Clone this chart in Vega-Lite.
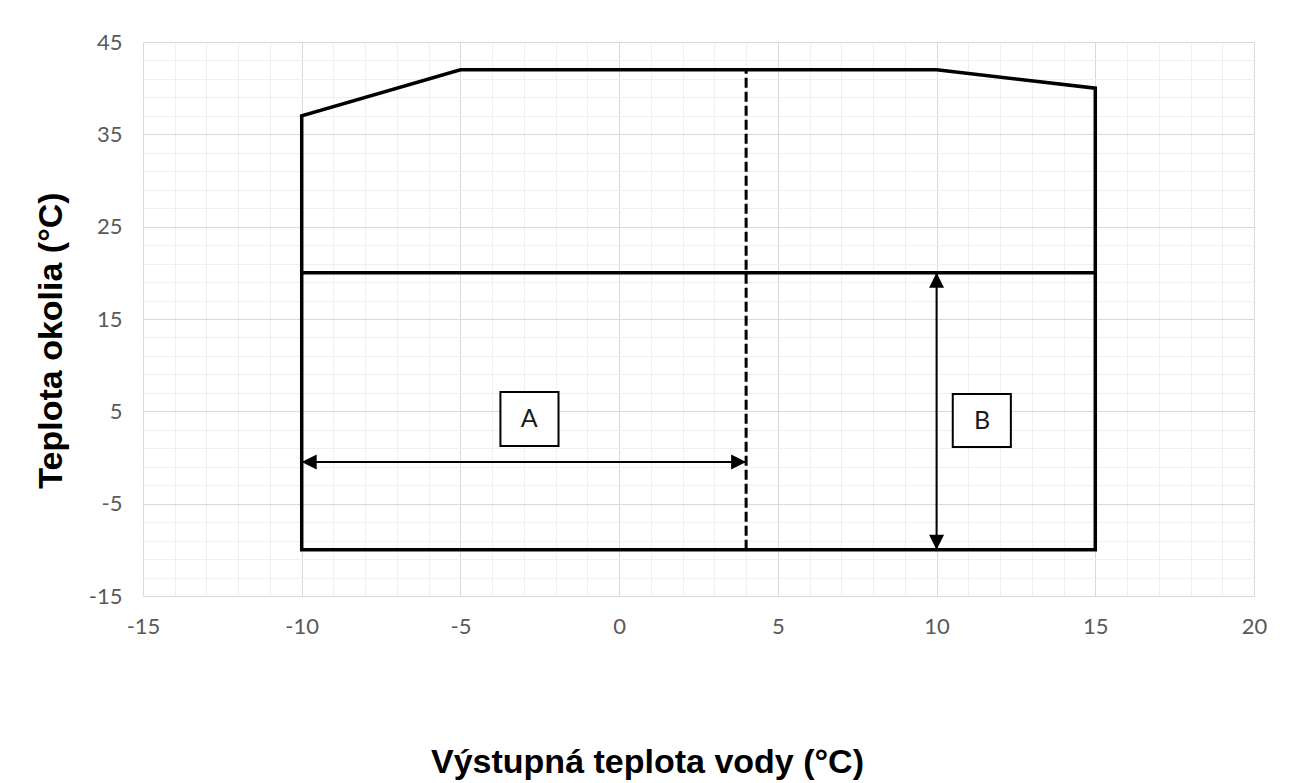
{
  "$schema": "https://vega.github.io/schema/vega-lite/v6.json",
  "width": 1111,
  "height": 554,
  "autosize": {"type": "none"},
  "padding": {"left": 143, "top": 42, "right": 35, "bottom": 187},
  "background": "white",
  "config": {"view": {"stroke": null}, "axis": {"labelOverlap": false, "labelFlush": false}},
  "datasets": {
    "outline": [
      {"x": -10, "y": -10, "o": 0},
      {"x": -10, "y": 37, "o": 1},
      {"x": -5, "y": 42, "o": 2},
      {"x": 10, "y": 42, "o": 3},
      {"x": 15, "y": 40, "o": 4},
      {"x": 15, "y": -10, "o": 5},
      {"x": -10, "y": -10, "o": 6}
    ],
    "hline": [{"x": -10, "x2": 15, "y": 20}],
    "dashed": [{"x": 4, "y": -10, "y2": 42}],
    "arrows": [
      {"x": -10, "x2": 4, "y": -0.5, "y2": -0.5},
      {"x": 10, "x2": 10, "y": -10, "y2": 20}
    ],
    "heads": [
      {"x": -10, "y": -0.5, "dir": "L"},
      {"x": 4, "y": -0.5, "dir": "R"},
      {"x": 10, "y": 20, "dir": "U"},
      {"x": 10, "y": -10, "dir": "D"}
    ],
    "boxes": [
      {"x": -3.74, "x2": -1.91, "y": 7.09, "y2": 1.24},
      {"x": 10.51, "x2": 12.34, "y": 6.88, "y2": 1.14}
    ],
    "labels": [
      {"x": -2.83, "y": 4.17, "label": "A"},
      {"x": 11.43, "y": 4.0, "label": "B"}
    ]
  },
  "encoding": {
    "x": {
      "field": "x", "type": "quantitative",
      "scale": {"domain": [-15, 20], "nice": false, "zero": false},
      "axis": {
        "values": [-15,-14,-13,-12,-11,-10,-9,-8,-7,-6,-5,-4,-3,-2,-1,0,1,2,3,4,5,6,7,8,9,10,11,12,13,14,15,16,17,18,19,20],
        "grid": true,
        "gridColor": {"condition": {"test": "abs(datum.value) % 5 === 0", "value": "#d9d9d9"}, "value": "#efefef"},
        "gridWidth": 1,
        "ticks": false,
        "domain": false,
        "labelOverlap": false,
        "labelFlush": false,
        "labelExpr": "abs(datum.value) % 5 === 0 ? '' + datum.value : ''",
        "labelFont": "Lato",
        "labelFontSize": 22,
        "labelColor": "#595959",
        "labelPadding": 20,
        "title": "Výstupná teplota vody (°C)",
        "titleFont": "Liberation Sans",
        "titleFontWeight": "bold",
        "titleFontSize": 34,
        "titleColor": "black",
        "titleX": 504,
        "titleY": 166,
        "titleAlign": "center",
        "titleBaseline": "middle"
      }
    },
    "y": {
      "field": "y", "type": "quantitative",
      "scale": {"domain": [-15, 45], "nice": false, "zero": false},
      "axis": {
        "values": [-15,-13,-11,-9,-7,-5,-3,-1,1,3,5,7,9,11,13,15,17,19,21,23,25,27,29,31,33,35,37,39,41,43,45],
        "grid": true,
        "gridColor": {"condition": {"test": "(datum.value + 15) % 10 === 0", "value": "#d9d9d9"}, "value": "#efefef"},
        "gridWidth": 1,
        "ticks": false,
        "domain": false,
        "labelOverlap": false,
        "labelFlush": false,
        "labelExpr": "(datum.value + 15) % 10 === 0 ? '' + datum.value : ''",
        "labelFont": "Lato",
        "labelFontSize": 22,
        "labelColor": "#595959",
        "labelPadding": 21,
        "title": "Teplota okolia (°C)",
        "titleFont": "Liberation Sans",
        "titleFontWeight": "bold",
        "titleFontSize": 34,
        "titleColor": "black",
        "titleX": -92,
        "titleY": 298,
        "titleAngle": -90,
        "titleAlign": "center",
        "titleBaseline": "middle"
      }
    }
  },
  "layer": [
    {
      "data": {"name": "outline"},
      "mark": {"type": "line", "color": "black", "strokeWidth": 3.5, "strokeJoin": "miter", "strokeCap": "square"},
      "encoding": {
        "order": {"field": "o", "type": "quantitative"}
      }
    },
    {
      "data": {"name": "hline"},
      "mark": {"type": "rule", "color": "black", "strokeWidth": 3.5},
      "encoding": {
        "x2": {"field": "x2"}
      }
    },
    {
      "data": {"name": "dashed"},
      "mark": {"type": "rule", "color": "black", "strokeWidth": 3, "strokeDash": [10, 4]},
      "encoding": {
        "y2": {"field": "y2"}
      }
    },
    {
      "data": {"name": "arrows"},
      "mark": {"type": "rule", "color": "black", "strokeWidth": 2},
      "encoding": {
        "x2": {"field": "x2"},
        "y2": {"field": "y2"}
      }
    },
    {
      "data": {"name": "heads"},
      "mark": {"type": "point", "filled": true, "color": "black", "opacity": 1, "size": 225},
      "encoding": {
        "shape": {
          "field": "dir", "type": "nominal", "legend": null,
          "scale": {
            "domain": ["L", "R", "U", "D"],
            "range": ["M0,0L2,-1L2,1Z", "M0,0L-2,-1L-2,1Z", "M0,0L-1,2L1,2Z", "M0,0L-1,-2L1,-2Z"]
          }
        }
      }
    },
    {
      "data": {"name": "boxes"},
      "mark": {"type": "rect", "fill": "white", "stroke": "black", "strokeWidth": 2},
      "encoding": {
        "x2": {"field": "x2"},
        "y2": {"field": "y2"}
      }
    },
    {
      "data": {"name": "labels"},
      "mark": {"type": "text", "font": "Lato", "fontSize": 25, "color": "#1a1a1a", "align": "center", "baseline": "middle"},
      "encoding": {
        "text": {"field": "label"}
      }
    }
  ]
}
